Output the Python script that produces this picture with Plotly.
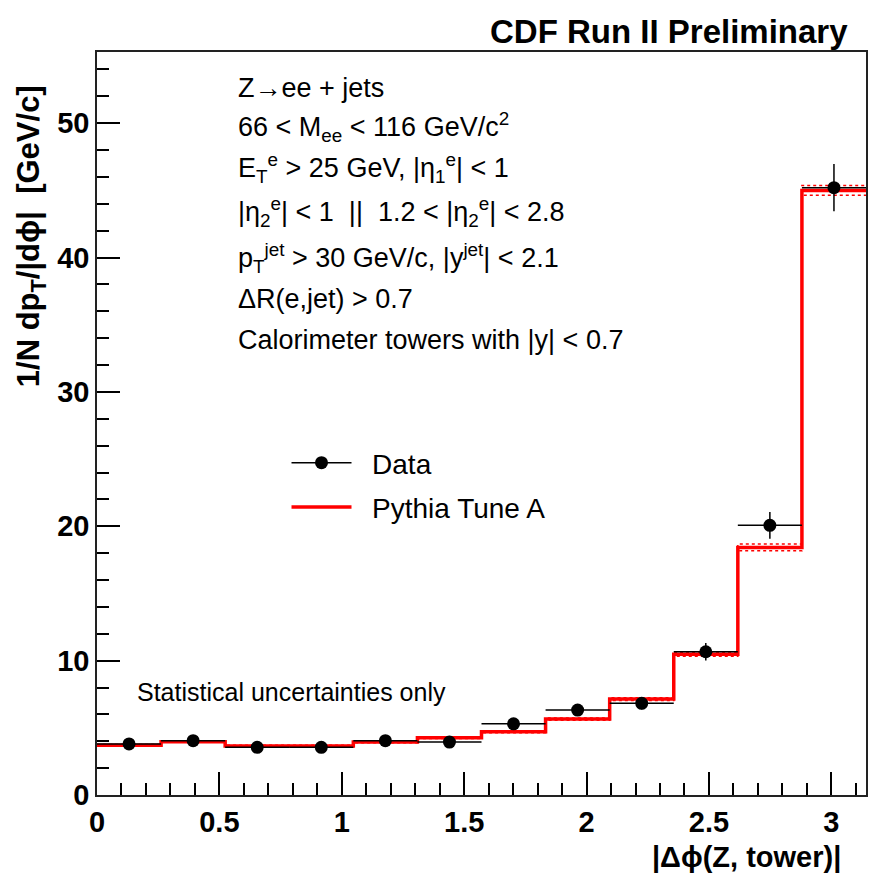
import numpy as np
import plotly.graph_objects as go

# ---- data ----
bin_edges = list(np.linspace(0.0, np.pi, 13))          # 12 bins of width pi/12 in |dphi|
data_y = [3.80, 4.04, 3.55, 3.55, 4.04, 3.94, 5.30, 6.32, 6.82, 10.66, 20.07, 45.20]
data_err = [0.20, 0.20, 0.20, 0.20, 0.22, 0.25, 0.30, 0.35, 0.45, 0.65, 1.00, 1.76]
pythia_y = [3.70, 3.97, 3.65, 3.65, 3.94, 4.26, 4.71, 5.65, 7.14, 10.47, 18.43, 45.00]
pythia_err = [0.05, 0.05, 0.05, 0.05, 0.05, 0.06, 0.07, 0.08, 0.10, 0.15, 0.25, 0.37]

x_ticks = [0, 0.5, 1, 1.5, 2, 2.5, 3]
y_ticks = [0, 10, 20, 30, 40, 50]

centers = [(a + b) / 2 for a, b in zip(bin_edges[:-1], bin_edges[1:])]
half_w = [(b - a) / 2 for a, b in zip(bin_edges[:-1], bin_edges[1:])]

W, H = 872, 876
ML, MR, MT, MB = 97, 4, 52, 81
PW, PH = W - ML - MR, H - MT - MB

def px(xp):
    return (xp - ML) / PW

def py(yp):
    return (H - MB - yp) / PH

FONT = "Liberation Sans, Arial, Helvetica, sans-serif"

fig = go.Figure()

# MC uncertainty band (dotted red) and Pythia histogram
step_x = bin_edges
up = [v + e for v, e in zip(pythia_y, pythia_err)]
lo = [v - e for v, e in zip(pythia_y, pythia_err)]
for band in (up, lo):
    fig.add_trace(go.Scatter(x=step_x, y=band + [band[-1]], mode="lines",
                             line=dict(color="#ff0000", width=1.5, dash="dot", shape="hv"),
                             showlegend=False, hoverinfo="skip"))
fig.add_trace(go.Scatter(x=step_x, y=pythia_y + [pythia_y[-1]], mode="lines",
                         line=dict(color="#ff0000", width=3.5, shape="hv"),
                         name="Pythia Tune A", showlegend=False))

# Data points
fig.add_trace(go.Scatter(x=centers, y=data_y, mode="markers",
                         marker=dict(color="black", size=13, symbol="circle"),
                         error_x=dict(type="data", array=half_w, color="black", thickness=1.5, width=0),
                         error_y=dict(type="data", array=data_err, color="black", thickness=1.5, width=0),
                         name="Data", showlegend=False))

# legend-only keys
fig.add_trace(go.Scatter(x=[None], y=[None], mode="lines+markers",
                         line=dict(color="black", width=1.5),
                         marker=dict(color="black", size=13), name="\u00a0\u00a0Data",
                         legendgroup="d"))
fig.add_trace(go.Scatter(x=[None], y=[None], mode="lines",
                         line=dict(color="#ff0000", width=3.5), name="\u00a0\u00a0Pythia Tune A",
                         legendgroup="p"))

ann = []
def text(x, y, s, size=28, bold=False, xanchor="left", yanchor="middle", angle=0):
    ann.append(dict(x=px(x), y=py(y), xref="paper", yref="paper", text=s, showarrow=False,
                    xanchor=xanchor, yanchor=yanchor, textangle=angle,
                    font=dict(family=FONT, size=size, color="black",
                              weight="bold" if bold else "normal")))

text(852, 32, "CDF Run II Preliminary", size=33, bold=True, xanchor="right")
text(845, 857, "|Δϕ(Z, tower)|", size=29, bold=True, xanchor="right")
text(31, 236, "1/N dp<sub>T</sub>/|dϕ|  [GeV/c]", size=31, bold=True, xanchor="center", angle=-90)

lines = [
    (88, "Z→ee + jets"),
    (127, "66 &lt; M<sub>ee</sub> &lt; 116 GeV/c<sup>2</sup>"),
    (168, "E<sub>T</sub><sup>e</sup> &gt; 25 GeV, |η<sub>1</sub><sup>e</sup>| &lt; 1"),
    (212, "|η<sub>2</sub><sup>e</sup>| &lt; 1  ||  1.2 &lt; |η<sub>2</sub><sup>e</sup>| &lt; 2.8"),
    (258, "p<sub>T</sub><sup>jet</sup> &gt; 30 GeV/c, |y<sup>jet</sup>| &lt; 2.1"),
    (299, "ΔR(e,jet) &gt; 0.7"),
    (340, "Calorimeter towers with |y| &lt; 0.7"),
]
for yy, s in lines:
    text(236, yy, s, size=27)
text(135, 692, "Statistical uncertainties only", size=25)

fig.update_layout(
    width=W, height=H,
    margin=dict(l=ML, r=MR, t=MT, b=MB),
    paper_bgcolor="white", plot_bgcolor="white",
    annotations=ann,
    showlegend=True,
    legend=dict(x=px(287), y=py(438), xanchor="left", yanchor="top",
                bgcolor="rgba(0,0,0,0)", borderwidth=0, itemwidth=60,
                tracegroupgap=5,
                font=dict(family=FONT, size=28, color="black")),
    xaxis=dict(range=[0, np.pi], tickvals=x_ticks, ticktext=[str(v) for v in x_ticks],
               ticks="inside", ticklen=23, tickwidth=1.5, tickcolor="black",
               minor=dict(ticks="inside", ticklen=12, dtick=0.1, tick0=0, tickwidth=1.5, tickcolor="black"),
               showline=True, linecolor="#222", linewidth=1.5, mirror=True,
               showgrid=False, zeroline=False,
               tickfont=dict(family=FONT, size=29, color="black", weight="bold")),
    yaxis=dict(range=[0, 55.3], tickvals=y_ticks,
               ticks="inside", ticklen=23, tickwidth=1.5, tickcolor="black",
               minor=dict(ticks="inside", ticklen=12, dtick=2, tick0=0, tickwidth=1.5, tickcolor="black"),
               showline=True, linecolor="#222", linewidth=1.5, mirror=True,
               showgrid=False, zeroline=False,
               tickfont=dict(family=FONT, size=29, color="black", weight="bold")),
)

fig.write_html("out.html")
